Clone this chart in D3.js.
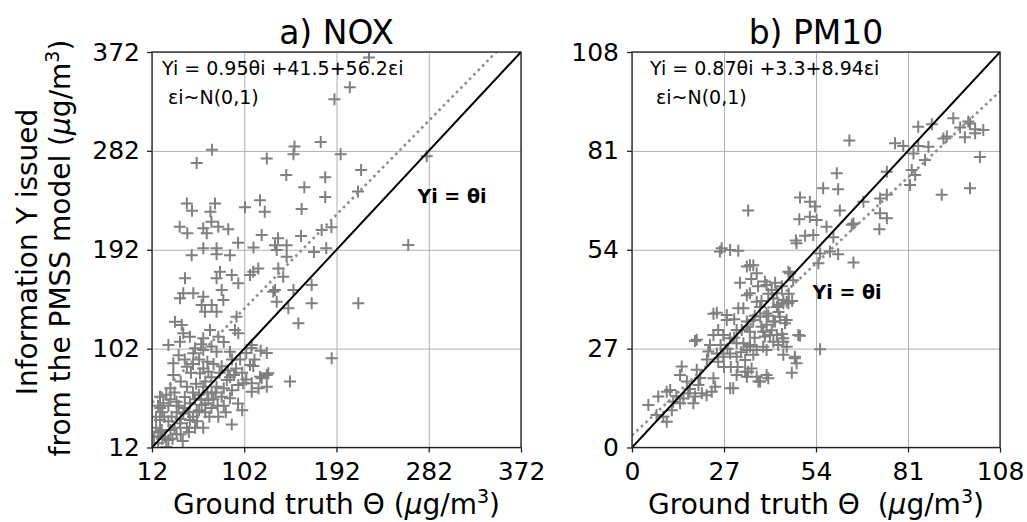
<!DOCTYPE html>
<html><head><meta charset="utf-8">
<script src="https://cdn.jsdelivr.net/npm/d3@7"></script>
<style>
body{margin:0;background:#fff}
text{font-family:"DejaVu Sans",sans-serif;fill:#000}
</style>
</head><body>
<svg id="chart" width="1027" height="522"></svg>
<script>
// ---------------- DATA ----------------
const noxTicks = [12, 102, 192, 282, 372];
const pmTicks = [0, 27, 54, 81, 108];
const noxTitle = "a) NOX";
const pmTitle = "b) PM10";
const noxEquation = "Yi = 0.95θi +41.5+56.2εi";
const pmEquation = "Yi = 0.87θi +3.3+8.94εi";
const noiseText = "εi~N(0,1)";
const identityText = "Yi = θi";
const noxFit = [0.95, 41.5];   // slope, intercept
const pmFit = [0.87, 3.3];
const noxIdentityLabelAt = [271, 235];
const pmIdentityLabelAt = [53, 40.5];

const noxPoints = [
[223.7,367],[205,340],[190,329],[176.6,290],[151,286],[150,279],[196,279],[280,277],[70.5,283],[55.6,271],[124,275],[216,264.5],[143,260],[181,258],[160.6,249],[181,240],[213,245],[46,234],[51,227.5],[73.5,234],[69,226.6],[102.7,230.6],[117.4,237],[122,226.6],[158,229],[39,213],[46.4,207],[62,211.5],[65.4,207],[70,217.5],[76.7,213],[86.4,210.6],[96,198.4],[111,194],[119,205.4],[135,202.4],[132,196],[143.4,196],[157.4,204.5],[170,190],[177.5,210],[187,212.4],[182,193.4],[262,196.3],[62,193.4],[75,193.4],[75,188],[133.7,191.7],[143.4,185.6],
[50.7,187],[88,187],[78.3,172],[89.8,169],[44.2,166],[75,166],[96.2,161.4],[42.5,152.3],[39.3,147.8],[52.3,152.3],[62,149.2],[80,155.3],[81.6,146.2],[60.4,141.7],[70.2,141.7],[63.7,135.6],[75,135.6],[107.6,169],[115.7,175],[135.2,175],[140,167.4],[132,155.3],[133.7,144.7],[150,155.3],[167.8,160],[167.8,143.2],[145,138.7],[154.8,125],[94.5,131],[34.4,126.5],[41,123.5],[42.5,116],[49,112.8],[68.6,119],[62,111.4],[76.7,112.8],[93,119],[96.2,116],[109.3,105.3],[28,105.3],[54,102.3],
[213.3,143.2],[187.3,93.2],[146.6,72],[89.8,33],[124,78],[110.8,86.2],[109.3,62.8],[119,75],[130.3,153.8],[110.8,172],
[39.3,108.3],[52.3,97.7],[62,100.7],[75,99.2],[88,99.2],[32.8,88.6],[46,85.5],[58.8,79.5],[67,81],[32.8,78],[85,73.4],[75,67.3],[107.6,87],[117.4,76.4],[125.5,79.5],[124,67.3],[96.2,69],[88,56.8],[46,67.3],[19.8,58.2],[23,52.2],[36,53.7],[49,52.2],[60.5,50.7],[67,55.2],[55.6,44.6],[42.5,43],[31.2,40],[76.7,40],[19.8,37],[21.5,28],[24.7,21.8],[39.3,34],[49,37],[70.2,61.3],[80,58.2],[62,67.3],[18,15.8],[28,18.8],[109.3,70.4],[101,70.4],
[58,92],[66,90],[72,88],[80,86],[62,84],[70,76],[78,80],[86,82],[92,78],[55,70],[64,72],[82,66],[90,64],[58,60],[74,62],[50,80],[40,72],[30,66],[28,50],[36,44],[44,58],[52,62],[60,56],[34,30],[28,36],[40,24],[46,30],[56,36],[64,44],[70,48],[82,50],[22,44],[30,56],[16,30],[18,22],[26,12.5],[32,20],[62,30],[100,46],[96,52],[104,98],[98,92],[109,102.5],[124,98],[118,100],
[20,48],[24,40],[26,60],[34,62],[38,50],[44,48],[48,44],[52,40],[58,46],[64,52],[68,40],[72,56],[76,50],[84,44],[88,76],[94,84],[100,80],[104,74],[112,92],[116,66],[30,28],[36,24],[42,18],[48,26],[54,30],[22,20],[20,26],[14,22],[16,40],[18,50],[44,92],[52,88],[38,96],[60,106],[70,104],[82,108],[90,92],[66,62],[54,56],[40,38]
];

const pmPoints = [
[63.8,83.8],[84,87.6],[88,88.3],[94.3,89.9],[98.7,89],[96.3,87.4],[100.7,86.9],[103.1,86.7],[92.4,84.9],[97.7,84.7],[102.1,79.3],[77.2,83.1],[79.6,82.3],[84,82.3],[87,82.1],[82.6,80.3],[86,78.5],[74.8,75.3],[82.1,75.8],[83.1,74.4],[81.6,71.7],[90.9,69],[99.2,70.8],[67.9,67.1],[72.8,68],[74.8,69],[72.8,64],[74.8,62.6],[72.6,59.6],[65,61.2],[60.1,74.9],[56.1,70.8],[60.5,70.5],[61,64.7],[49.3,68.3],[52.2,67.1],[53.7,65.8],[49.1,62.3],[52.2,63],[54.2,62.1],[57.1,60.3],[50.8,57.8],[53.2,58],[48.1,56.5],[59.1,57.4],[34.1,64.7],[26.3,54.4],[28.8,53.9],[31.2,53.7],
[35.6,49.8],[65,50.5],[60.5,52.8],[54.7,50.3],[55.2,53],[48.3,55.8],[64.5,60.8],[99.2,88.5],[91.4,84.4],[100.7,85.8],[58.1,53.5],
[25.8,53.5],[33.7,49.4],[31.7,45],[33.7,41.6],[31.2,38],[27.8,36.2],[24.9,36.8],[27.8,34.8],[25.3,32.1],[23.9,30.7],[19,29.4],[26.8,30.7],[28.8,29.8],[22.9,28],[22.4,26.2],[24.9,25.7],[26.8,24.8],[28.8,25.7],[30.7,24.8],[33.2,23.9],[30.7,28.5],[25.3,23.4],[14.6,22.1],[19,21.2],[14.1,19.8],[16.1,18],[23.9,18.9],[19.5,17.1],[20.5,14.8],[23.4,15.2],[18.5,13.9],[16.5,14.8],[11.2,15.7],[7.7,13.9],[4.8,11.6],[7.2,8.9],[9.2,8.4],[10.2,7],[11.7,10.2],[14.1,12.1],[15.1,13.4],[12.1,12.5],[18,12.1],[28.8,16.2],[24.4,16.6],[21.9,14.3],[33.7,26.6],[30.7,19.8],[33.7,19.3],
[10.2,15.2],[18.5,29.1],[23.9,36.5],[34.6,49.8],[39.5,44.4],[42.5,42.1],[45.4,39.8],[46.4,47.6],[47.3,45.7],[44.9,33.9],[49.3,30.5],[47.8,24.8],[46.9,20.4],[40,18.9],[37.1,18],[34.1,20.7],[39.5,26.6],[44.4,28.9],[39,30.3],[42.5,30.7],[34.6,28],[36.6,26.6],[39.5,33.5],[41.5,34.4],[42.5,38.4],[44.4,39.4],[37.6,38.4],[35.6,34.8],[32.2,32.1],[55.2,26.8],
[36.6,47.6],[39,45.3],[41,43],[45.9,48],[34.6,42.1],[36.6,39.8],[41.5,40.7],[44.4,40.3],[42.9,38.9],[45.9,39.4],[32.7,38],[37.6,35.7],[39.5,36.6],[43.4,35.7],[45.4,34.8],[42,34.4],[33.7,34.4],[30.7,32.1],[34.6,31.6],[38.5,31.6],[40.5,30.7],[48.8,30.7],[44.4,29.8],[41.5,28.9],[32.7,28.5],[34.6,27.5],[38.5,27.5],[42.9,28],[45.4,27.5],[35.6,25.3],[44.4,25.3],[47.8,24.4],[48.3,23],[35.1,21.6],[33.2,20.7],[36.6,19.3],[39.5,19.8],[37.6,18],[29.7,16.2],
[28,27],[30,30],[32,26],[36,30],[38,33],[40,36],[43,37],[36,36],[34,33],[41,32],[44,31],[38,40],[40,42],[42,45],[44,44],[30,35],[26,28],[22,24],[20,19],[17,16],[13,14],[27,22],[29,22],[31,22],[46,42],[47,40],[37,44],[35,46]
];

// ---------------- DRAW ----------------
const svg = d3.select("#chart");
const plotTop = 52, plotBottom = 447.5;
const gray = "#808080";

function unitLabel(sel, prefix) {
  sel.append("tspan").text(prefix + "(");
  sel.append("tspan").attr("font-style", "italic").text("μ");
  sel.append("tspan").text("g/m");
  sel.append("tspan").attr("dy", -11).attr("font-size", "19px").text("3");
  sel.append("tspan").attr("dy", 11).text(")");
}

function panel(cfg) {
  const x = d3.scaleLinear().domain(d3.extent(cfg.ticks)).range([cfg.left, cfg.right]);
  const y = d3.scaleLinear().domain(d3.extent(cfg.ticks)).range([plotBottom, plotTop]);
  const g = svg.append("g");
  const clipId = "clip" + cfg.id;
  svg.append("clipPath").attr("id", clipId).append("rect")
    .attr("x", cfg.left).attr("y", plotTop).attr("width", cfg.right - cfg.left).attr("height", plotBottom - plotTop);

  // grid
  g.append("g").attr("transform", `translate(0,${plotBottom})`)
    .call(d3.axisBottom(x).tickValues(cfg.ticks).tickSize(-(plotBottom - plotTop)).tickFormat(""))
    .call(s => s.select(".domain").remove())
    .call(s => s.selectAll("line").attr("stroke", "#b0b0b0").attr("stroke-width", 1));
  g.append("g").attr("transform", `translate(${cfg.left},0)`)
    .call(d3.axisLeft(y).tickValues(cfg.ticks).tickSize(-(cfg.right - cfg.left)).tickFormat(""))
    .call(s => s.select(".domain").remove())
    .call(s => s.selectAll("line").attr("stroke", "#b0b0b0").attr("stroke-width", 1));

  const plot = g.append("g").attr("clip-path", `url(#${clipId})`);
  // points
  plot.selectAll("path.pt").data(cfg.points).join("path")
    .attr("class", "pt")
    .attr("d", "M-6,0H6M0,-6V6")
    .attr("transform", d => `translate(${x(d[0])},${y(d[1])})`)
    .attr("stroke", gray).attr("stroke-width", 2).attr("fill", "none");

  const [d0, d1] = x.domain();
  const line = d3.line().x(d => x(d[0])).y(d => y(d[1]));
  // fitted dotted line
  plot.append("path")
    .attr("d", line([[d0, cfg.fit[0] * d0 + cfg.fit[1]], [d1, cfg.fit[0] * d1 + cfg.fit[1]]]))
    .attr("stroke", "#8c8c8c").attr("stroke-width", 2.6).attr("stroke-dasharray", "2.6,3.6").attr("fill", "none");
  // identity line
  plot.append("path")
    .attr("d", line([[d0, d0], [d1, d1]]))
    .attr("stroke", "#000").attr("stroke-width", 2).attr("fill", "none");

  // frame
  g.append("rect").attr("x", cfg.left).attr("y", plotTop)
    .attr("width", cfg.right - cfg.left).attr("height", plotBottom - plotTop)
    .attr("fill", "none").attr("stroke", "#222").attr("stroke-width", 1.3);

  // axes ticks + labels
  const ax = g.append("g").attr("transform", `translate(0,${plotBottom})`)
    .call(d3.axisBottom(x).tickValues(cfg.ticks).tickSize(5).tickPadding(9.5));
  const ay = g.append("g").attr("transform", `translate(${cfg.left},0)`)
    .call(d3.axisLeft(y).tickValues(cfg.ticks).tickSize(5).tickPadding(cfg.ypad));
  [ax, ay].forEach(a => {
    a.select(".domain").remove();
    a.selectAll("line").attr("stroke", "#222").attr("stroke-width", 1.3);
    a.selectAll("text").attr("font-size", "25px").attr("font-family", "DejaVu Sans").attr("fill", "#000");
  });

  // title
  g.append("text").attr("x", (cfg.left + cfg.right) / 2).attr("y", 44)
    .attr("text-anchor", "middle").attr("font-size", "33px").text(cfg.title);

  // equation annotations
  g.append("text").attr("x", cfg.left + cfg.eqDx).attr("y", 75)
    .attr("font-size", "19px").text(cfg.equation);
  g.append("text").attr("x", cfg.left + cfg.eqDx + 6).attr("y", 104)
    .attr("font-size", "19px").text(noiseText);
  g.append("text").attr("x", x(cfg.idLabel[0])).attr("y", y(cfg.idLabel[1]))
    .attr("font-size", "19px").attr("font-weight", "bold").text(identityText);

  // x label
  const xl = g.append("text").attr("x", (cfg.left + cfg.right) / 2).attr("y", 514)
    .attr("text-anchor", "middle").attr("font-size", "28px").attr("xml:space", "preserve");
  unitLabel(xl, cfg.xlabelPrefix);
}

panel({id: "a", left: 152, right: 521, ticks: noxTicks, points: noxPoints, fit: noxFit,
  title: noxTitle, equation: noxEquation, idLabel: noxIdentityLabelAt, eqDx: 10, ypad: 7,
  xlabelPrefix: "Ground truth Θ "});
panel({id: "b", left: 632, right: 1000, ticks: pmTicks, points: pmPoints, fit: pmFit,
  title: pmTitle, equation: pmEquation, idLabel: pmIdentityLabelAt, eqDx: 18, ypad: 8,
  xlabelPrefix: "Ground truth Θ  "});

// y label (two lines)
svg.append("text").attr("transform", "translate(37,252) rotate(-90)")
  .attr("text-anchor", "middle").attr("font-size", "28px").text("Information Y issued");
const yl2 = svg.append("text").attr("transform", "translate(70,248) rotate(-90)")
  .attr("text-anchor", "middle").attr("font-size", "28px");
unitLabel(yl2, "from the PMSS model ");
</script>
</body></html>
